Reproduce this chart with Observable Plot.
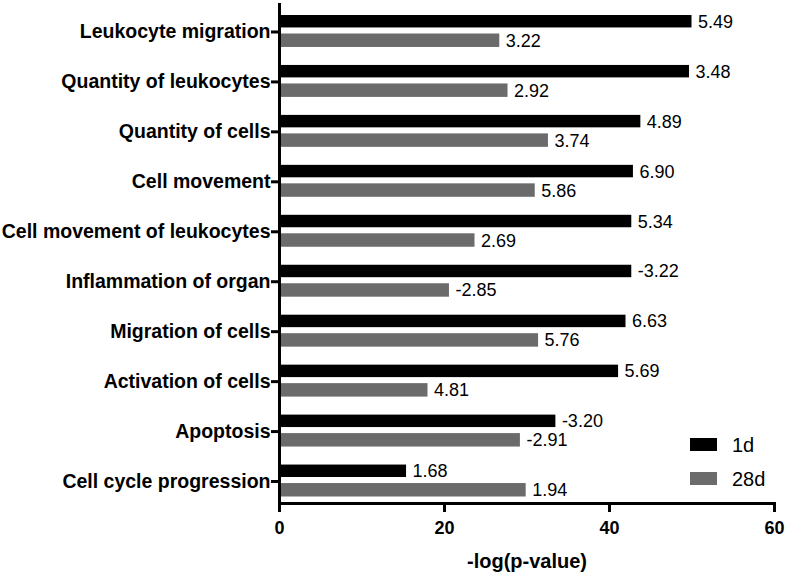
<!DOCTYPE html>
<html>
<head>
<meta charset="utf-8">
<script src="https://cdn.jsdelivr.net/npm/d3@7"></script>
<script src="https://cdn.jsdelivr.net/npm/@observablehq/plot@0.6"></script>
<style>
  html, body { margin: 0; padding: 0; background: #fff; }
  #wrap { position: relative; width: 789px; height: 577px; font-family: "Liberation Sans", Arial, sans-serif; }
  .lg { position: absolute; display: flex; align-items: center; font-size: 20px; color: #000; line-height: 1; }
  .sw { width: 27px; height: 13px; margin-right: 15px; }
</style>
</head>
<body>
<div id="wrap"></div>
<script>
const categories = [
  "Leukocyte migration",
  "Quantity of leukocytes",
  "Quantity of cells",
  "Cell movement",
  "Cell movement of leukocytes",
  "Inflammation of organ",
  "Migration of cells",
  "Activation of cells",
  "Apoptosis",
  "Cell cycle progression"
];
const series = ["1d", "28d"];
const logP1d  = [50.0, 49.7, 43.8, 42.9, 42.7, 42.7, 42.0, 41.1, 33.5, 15.4];
const logP28d = [26.7, 27.7, 32.6, 31.0, 23.7, 20.6, 31.4, 18.0, 29.2, 29.9];
const z1d  = ["5.49", "3.48", "4.89", "6.90", "5.34", "-3.22", "6.63", "5.69", "-3.20", "1.68"];
const z28d = ["3.22", "2.92", "3.74", "5.86", "2.69", "-2.85", "5.76", "4.81", "-2.91", "1.94"];
const xTicks = [0, 20, 40, 60];
const colors = ["#000000", "#6b6b6b"];

const d1 = categories.map((c, i) => ({c, v: logP1d[i], z: z1d[i]}));
const d28 = categories.map((c, i) => ({c, v: logP28d[i], z: z28d[i]}));

const chart = Plot.plot({
  width: 789,
  height: 577,
  marginLeft: 279,
  marginRight: 15,
  marginTop: 4,
  marginBottom: 74,
  style: {fontFamily: "'Liberation Sans', Arial, sans-serif", background: "#fff", color: "#000"},
  x: {domain: [0, 60]},
  y: {domain: categories, padding: 0, round: false, insetTop: 2.5, insetBottom: -3},
  marks: [
    Plot.barX(d1, {x: "v", y: "c", fill: colors[0], insetTop: 8.5, insetBottom: 29}),
    Plot.barX(d28, {x: "v", y: "c", fill: colors[1], insetTop: 27, insetBottom: 9.5}),
    Plot.text(d1, {x: "v", y: "c", text: "z", dx: 6, dy: -10, textAnchor: "start", fontSize: 18, fill: "#000"}),
    Plot.text(d28, {x: "v", y: "c", text: "z", dx: 6, dy: 9, textAnchor: "start", fontSize: 18, fill: "#000"}),
    Plot.axisY({tickSize: 8, tickPadding: 1, fontSize: 19.5, fontWeight: "bold", strokeWidth: 3, label: null}),
    Plot.axisX({ticks: xTicks, tickSize: 9, tickPadding: 9, fontSize: 18, fontWeight: "bold", strokeWidth: 3,
      label: "-log(p-value)", labelAnchor: "center", labelArrow: "none", labelOffset: 64}),
    Plot.frame({anchor: "left", strokeWidth: 3}),
    Plot.frame({anchor: "bottom", strokeWidth: 3})
  ]
});
const wrap = document.getElementById("wrap");
wrap.appendChild(chart);
chart.querySelectorAll("g[aria-label='x-axis label'] text").forEach(t => {
  t.setAttribute("font-size", "20");
  t.setAttribute("font-weight", "bold");
});

const swatchTops = [438, 472];
series.forEach((s, i) => {
  const row = document.createElement("div");
  row.className = "lg";
  row.style.left = "690px";
  row.style.top = (swatchTops[i] - 4) + "px";
  row.style.height = "21px";
  const sw = document.createElement("div");
  sw.className = "sw";
  sw.style.background = colors[i];
  const t = document.createElement("span");
  t.textContent = s;
  row.appendChild(sw);
  row.appendChild(t);
  wrap.appendChild(row);
});
</script>
</body>
</html>
